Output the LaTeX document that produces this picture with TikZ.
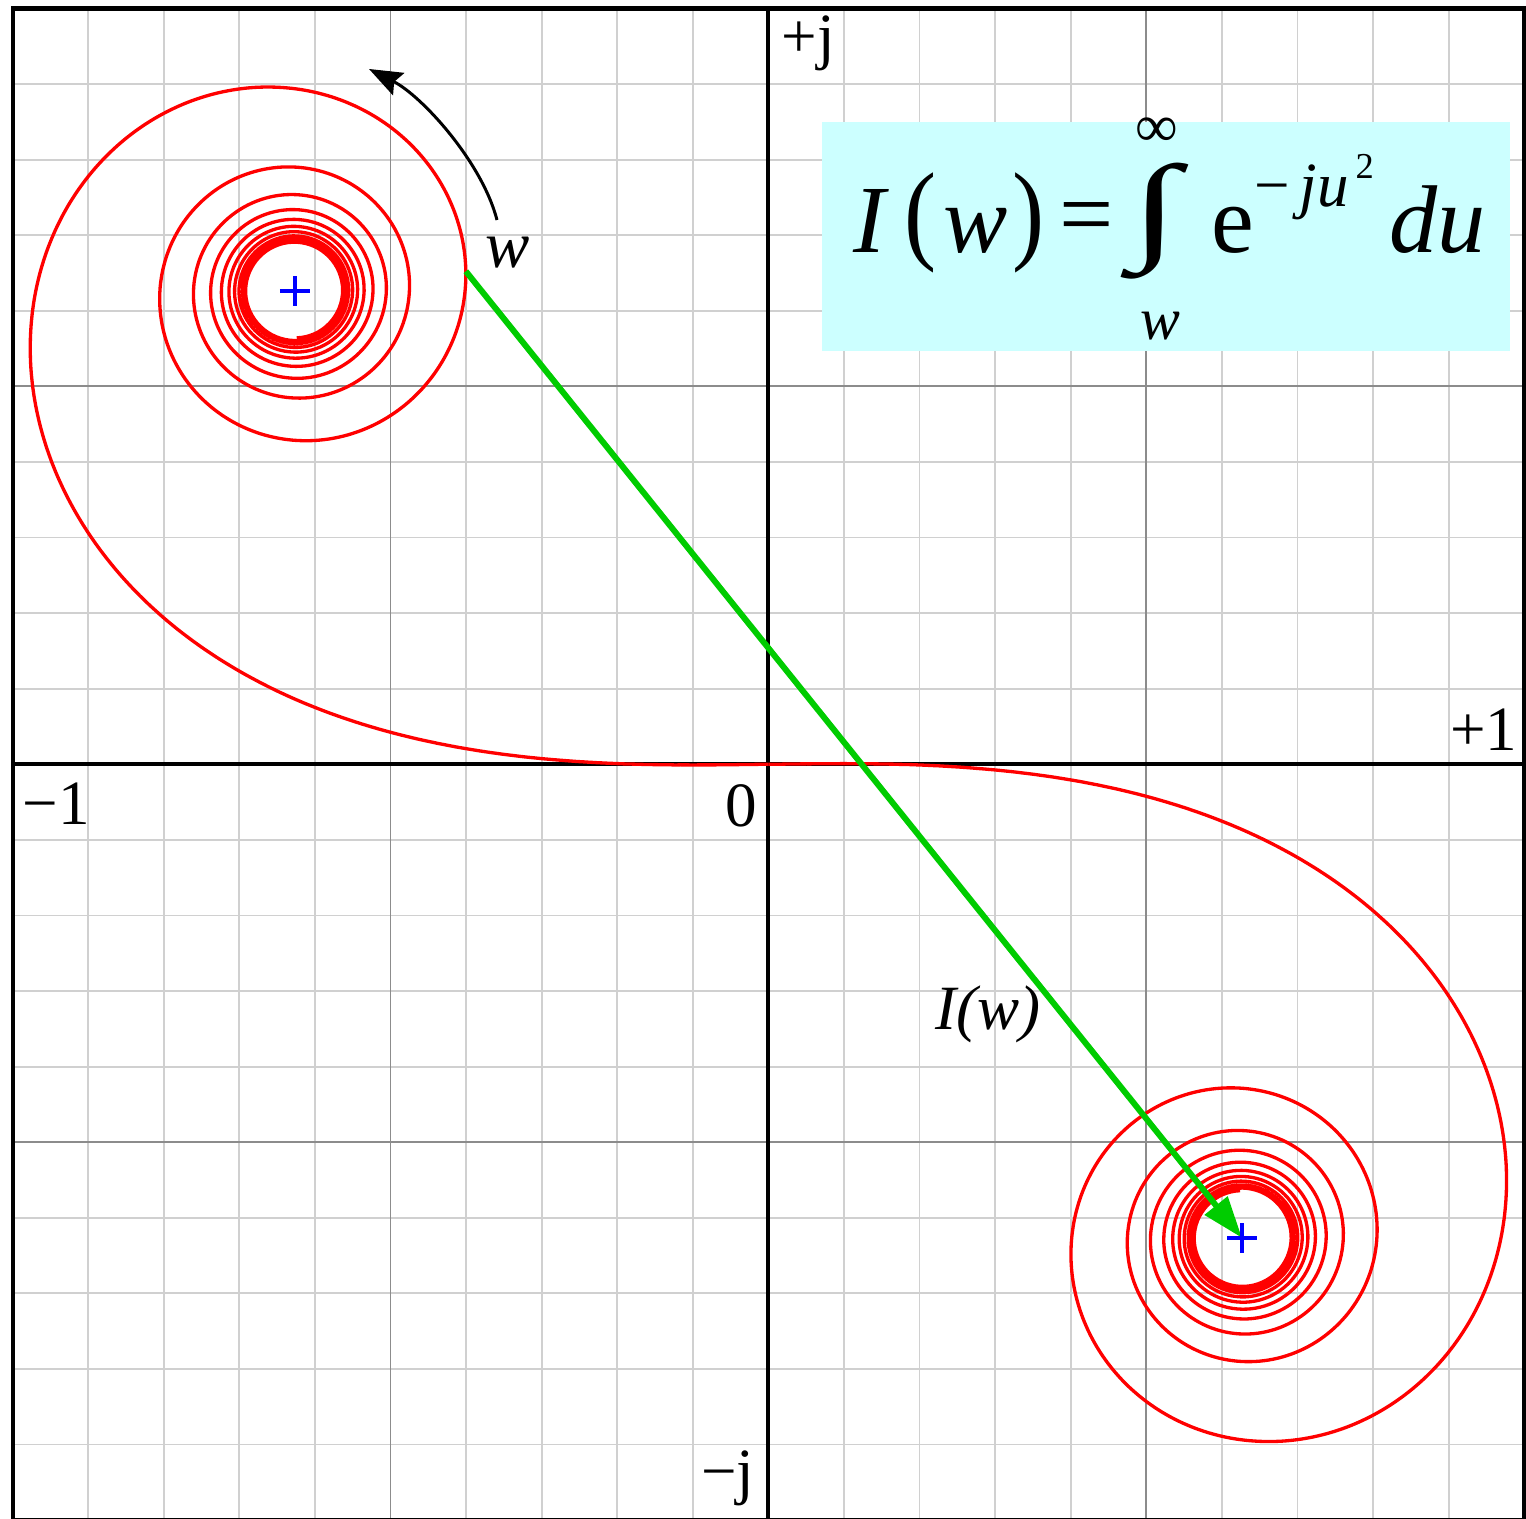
\documentclass[tikz,border=0pt]{standalone}
\usepackage{fontspec}
\setmainfont{Liberation Serif}
\usepackage{graphicx}
\usetikzlibrary{arrows.meta}
\definecolor{gridlight}{RGB}{208,208,208}
\definecolor{gridmajor}{RGB}{140,140,140}
\definecolor{boxcyan}{RGB}{204,255,255}
\definecolor{curvered}{RGB}{255,0,0}
\definecolor{arrowgreen}{RGB}{0,204,0}
\definecolor{crossblue}{RGB}{0,0,255}
\begin{document}
\begin{tikzpicture}[x=0.010585cm,y=-0.010585cm,
  declare function={
    ff(\x)=(1+0.926*\x)/(2+1.792*\x+3.104*\x*\x);
    gg(\x)=1/(2+4.142*\x+3.492*\x*\x+6.670*\x*\x*\x);
    CC(\x)=0.5+ff(\x)*sin(90*\x*\x)-gg(\x)*cos(90*\x*\x);
    SS(\x)=0.5-ff(\x)*cos(90*\x*\x)-gg(\x)*sin(90*\x*\x);
  },
  gridl/.style={draw=gridlight,line width=0.55pt},
  gridm/.style={draw=gridmajor,line width=0.55pt},
  axisline/.style={draw=black,line width=1.25pt},
  spiral/.style={draw=curvered,line width=1.0pt,line join=round},
  bluecross/.style={draw=crossblue,line width=1.1pt},
  greenarr/.style={draw=arrowgreen,fill=arrowgreen,line width=1.8pt,-{Triangle[length=12.5pt,width=8.5pt]}},
  blackarr/.style={draw=black,line width=0.9pt,-{Stealth[length=10pt,width=7.5pt,inset=1.5pt]}},
  lbl/.style={inner sep=0pt,font=\fontsize{19pt}{19pt}\selectfont},
  ilbl/.style={inner sep=0pt,font=\fontsize{19pt}{19pt}\selectfont\itshape},
  fbig/.style={inner sep=0pt,font=\fontsize{29pt}{29pt}\selectfont},
  fsup/.style={inner sep=0pt,font=\fontsize{19pt}{19pt}\selectfont},
  flim/.style={inner sep=0pt,font=\fontsize{18pt}{18pt}\selectfont}
]
\useasboundingbox (0,0) rectangle (1526,1519);
\clip (0,0) rectangle (1526,1519);
\fill[white] (0,0) rectangle (1526,1519);

% grid
\foreach \i in {-9,...,9} {
  \draw[gridl] ({768.4+75.58*\i},8.5) -- ({768.4+75.58*\i},1520.1);
  \draw[gridl] (12.6,{764.3+75.58*\i}) -- (1524.2,{764.3+75.58*\i});
}
\foreach \i in {-5,5} {
  \draw[gridm] ({768.4+75.58*\i},8.5) -- ({768.4+75.58*\i},1520.1);
  \draw[gridm] (12.6,{764.3+75.58*\i}) -- (1524.2,{764.3+75.58*\i});
}

% formula box
\fill[boxcyan] (822,122) rectangle (1510,351);

% axes and frame
\draw[axisline] (768.4,8.5) -- (768.4,1520.1);
\draw[axisline] (12.6,764.3) -- (1524.2,764.3);
\draw[axisline] (12.6,8.5) rectangle (1524.2,1520.1);

% Cornu spiral
\draw[spiral] plot[domain=0:6.32456,samples=1300,variable=\x]
  ({768.4+947.25*CC(\x)},{764.3+947.25*SS(\x)});
\draw[spiral] plot[domain=0:6.32456,samples=1300,variable=\x]
  ({768.4-947.25*CC(\x)},{764.3-947.25*SS(\x)});

% key points
\coordinate (cup) at (294.8,290.7);
\coordinate (clow) at (1242.0,1237.9);
\coordinate (wpt) at ({768.4-947.25*CC(1.73)},{764.3-947.25*SS(1.73)});

% green arrow I(w)
\draw[greenarr] (wpt) -- (clow);

% blue crosses
\draw[bluecross] ([xshift=-15*0.010585cm]cup) -- ([xshift=15*0.010585cm]cup);
\draw[bluecross] ([yshift=-15*0.010585cm]cup) -- ([yshift=15*0.010585cm]cup);
\draw[bluecross] ([xshift=-15*0.010585cm]clow) -- ([xshift=15*0.010585cm]clow);
\draw[bluecross] ([yshift=-15*0.010585cm]clow) -- ([yshift=15*0.010585cm]clow);

% black direction arrow
\coordinate (bas) at (497,220);
\coordinate (bc1) at (482,162);
\coordinate (bc2) at (422,96);
\coordinate (bae) at (369,69);
\draw[blackarr] (bas) .. controls (bc1) and (bc2) .. (bae);

% axis labels
\node[lbl,anchor=base east] (lplus1) at (1518,751) {+1};
\node[lbl,anchor=base west] (lminus1) at (22,825) {−1};
\node[lbl,anchor=base west] (lplusj) at (781,58) {+j};
\node[lbl,anchor=base east] (lminusj) at (755,1493) {−j};
\node[lbl,anchor=base east] (lzero) at (758,827) {0};

% curve labels
\node[inner sep=0pt,font=\fontsize{20pt}{20pt}\selectfont\itshape,anchor=base] (lw) at (508,268) {w};
\node[ilbl,anchor=base west] (liw) at (935,1030) {I(w)};

% formula
\node[fbig,anchor=base west] (fI) at (853,253) {\itshape I};
\node[fbig] (fpl) at (921,222.5) {\scalebox{1}[1.15]{(}};
\node[fbig,anchor=base] (fw) at (976,253) {\itshape w};
\node[fbig] (fpr) at (1029,222.5) {\scalebox{1}[1.15]{)}};
\node[fbig] (feq) at (1087,225) {=};
\node[fbig] (fint) at (1155,221) {\resizebox*{14.8pt}{35pt}{∫}};
\node[flim] (finf) at (1157,132) {∞};
\node[flim,anchor=base] (flow) at (1160,340) {\itshape w};
\node[fbig,anchor=base] (fe) at (1233,253) {e};
\node[inner sep=0pt,font=\fontsize{19pt}{19pt}\selectfont,anchor=base west] (fminus) at (1254,207) {−};
\node[fsup,anchor=base west] (fju) at (1299,207) {\itshape ju};
\node[inner sep=0pt,font=\fontsize{11pt}{11pt}\selectfont,anchor=base west] (ftwo) at (1355,179) {2};
\node[fbig,anchor=base west] (fdu) at (1389,253) {\itshape du};
\end{tikzpicture}
\end{document}
